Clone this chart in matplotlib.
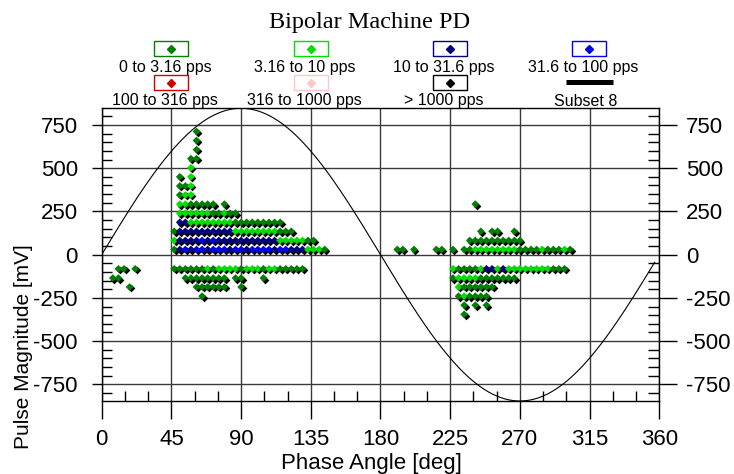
"""
Phase resolved PD plot (bipolar machine) saved to out.png.

"""
import matplotlib

matplotlib.use("Agg")
import matplotlib.pyplot as plt
import matplotlib.transforms as mtransforms
import numpy as np
from matplotlib import font_manager
from matplotlib.lines import Line2D
from matplotlib.patches import Rectangle
from matplotlib.ticker import MultipleLocator

plt.rcParams["font.family"] = ["Liberation Sans", "DejaVu Sans"]
plt.rcParams["axes.unicode_minus"] = False

# pulse rate classes, legend order
category_labels = ["0 to 3.16 pps", "3.16 to 10 pps", "10 to 31.6 pps", "31.6 to 100 pps",
                   "100 to 316 pps", "316 to 1000 pps", "> 1000 pps"]
category_codes = ["g", "G", "n", "b", "r", "p", "k"]
category_colors = ["#008000", "#00E000", "#000080", "#0000F0", "#D00000", "#FFC8C8", "#000000"]
subset_label = "Subset 8"

# phase windows of 3.6 deg; row = (magnitude mV, first window, class code per window, '.' = empty)
phase_window = 3.6
pd_rows = [
    (712, 17, "g"),
    (660, 17, "g"),
    (607, 17, "g"),
    (555, 16, "gg"),
    (502, 16, "G"),
    (450, 14, "g.G"),
    (397, 14, "ggG"),
    (345, 14, "gGG"),
    (292, 14, "GGggggg.g"),
    (240, 14, "GGGGGGggGgg"),
    (187, 14, "nnGGGGGGGGggggggggg"),
    (135, 13, "gnnnnnnnnnnGGGGGGGGggg"),
    (82, 13, "GnnnnbnbnnnnnnnnnnnGGGGGgg"),
    (30, 13, "gnbnbbnbbbnbbnbbbbnbbnnnGGGg"),
    (-82, 13, "ggggggGgGGGGgGGGgGGggggg"),
    (-135, 15, "gggggggg.gg...g"),
    (-187, 17, "gggggg..g"),
    (-240, 18, "g"),
    # small group just after zero crossing
    (-82, 3, "gg.g"),
    (-135, 2, "gg"),
    (-187, 5, "g"),
    # negative half cycle group
    (292, 67, "g"),
    (135, 68, "g.gg..g"),
    (82, 66, "gggggggggg"),
    (30, 53, "gg.g...gg.g.ggGGGGGGGGggggGgggGg"),
    (-82, 63, "GggggGnnGnGGGGGGGGggg"),
    (-135, 63, "gGGGGggggggg"),
    (-187, 64, "Ggggggg"),
    (-240, 64, "gGgggg"),
    (-292, 65, "g.g.g"),
    (-345, 65, "g"),
]

# AC reference wave
sine_amplitude = 846
sine_end = 357

x_ticks = [0, 45, 90, 135, 180, 225, 270, 315, 360]
y_ticks = [-750, -500, -250, 0, 250, 500, 750]

W, H = 734, 474


def fx(px):
    return px / W


def fy(py):
    return 1 - py / H


def unpack_rows(rows):
    color_of = dict(zip(category_codes, category_colors))
    phase, mag, color = [], [], []
    for value, first, codes in rows:
        for i, code in enumerate(codes):
            if code == ".":
                continue
            phase.append((first + i) * phase_window)
            mag.append(value)
            color.append(color_of[code])
    return np.array(phase), np.array(mag), color


fig = plt.figure(figsize=(W / 100, H / 100), dpi=100)
ax = fig.add_axes([fx(101.7), fy(401), fx(659.3) - fx(101.7), fy(108.3) - fy(401)])
ax.set_xlim(0, 360)
ax.set_ylim(-846, 846)

ax.grid(True, which="major", color="#3a3a3a", linewidth=1.0, zorder=1)
ax.set_axisbelow(True)

wave_phase = np.linspace(0, sine_end, 400)
ax.plot(wave_phase, sine_amplitude * np.sin(np.radians(wave_phase)),
        color="black", linewidth=0.8, zorder=2)

phase, mag, color = unpack_rows(pd_rows)
shadow = mtransforms.offset_copy(ax.transData, fig=fig, x=1.5, y=-1.5, units="dots")
ax.scatter(phase, mag, s=15.5, marker="D", color="black", linewidths=0,
           transform=shadow, zorder=3)
ax.scatter(phase, mag, s=15.5, marker="D", c=color, linewidths=0, zorder=4)

for side in ax.spines.values():
    side.set_linewidth(1.0)
    side.set_color("black")

ax.set_xticks(x_ticks)
ax.xaxis.set_minor_locator(MultipleLocator(15))
ax.set_yticks(y_ticks)
ax.yaxis.set_minor_locator(MultipleLocator(50))
ax.tick_params(axis="x", which="major", direction="out", length=13, width=1,
               pad=7, labelsize=16, top=False)
ax.tick_params(axis="x", which="minor", direction="in", length=7.5, width=1, top=False)
ax.tick_params(axis="y", which="major", direction="out", length=7.2, width=1,
               pad=10, labelsize=16, right=False)
ax.tick_params(axis="y", which="minor", direction="in", length=7.5, width=1, right=False)

ax2 = ax.twinx()
ax2.set_ylim(ax.get_ylim())
ax2.set_yticks(y_ticks)
ax2.yaxis.set_minor_locator(MultipleLocator(50))
ax2.tick_params(axis="y", which="major", direction="out", length=13, width=1,
                pad=6, labelsize=16)
ax2.tick_params(axis="y", which="minor", direction="in", length=8, width=1)
for side in ax2.spines.values():
    side.set_visible(False)

# titles and axis labels
fig.text(fx(370), fy(28), "Bipolar Machine PD", family="Liberation Serif",
         fontsize=17.5, ha="center", va="baseline")
fig.text(fx(371), fy(469), "Phase Angle [deg]", fontsize=16, ha="center", va="baseline")

installed = {f.name for f in font_manager.fontManager.ttflist}
if "Liberation Sans Narrow" in installed:
    fig.text(fx(24), fy(347), "Pulse Magnitude [mV]", family="Liberation Sans Narrow",
             fontsize=17.5, rotation=90, ha="center", va="center")
else:
    fig.text(fx(24), fy(347), "Pulse Magnitude [mV]", fontsize=15,
             rotation=90, ha="center", va="center")

# legend: boxed diamonds with caption below
col_x = [171, 310.5, 449.7, 589]
box_y = [48.5, 82.5]
text_y = [72, 105.5]
for i, (label, colour) in enumerate(zip(category_labels, category_colors)):
    row, col = divmod(i, 4)
    cx, cy = col_x[col], box_y[row]
    fig.add_artist(Rectangle((fx(cx - 17), fy(cy + 7.5)), 34 / W, 15 / H,
                             transform=fig.transFigure, fill=False,
                             edgecolor=colour, linewidth=1.0))
    fig.add_artist(Line2D([fx(cx)], [fy(cy)], marker="D", markersize=3.6,
                          color=colour, linestyle="none", transform=fig.transFigure))
    fig.text(fx(cx - 6), fy(text_y[row]), label, fontsize=11.5, ha="center", va="baseline")

fig.add_artist(Line2D([fx(566), fx(613)], [fy(82), fy(82)], color="black", linewidth=3.6,
                      solid_capstyle="butt", transform=fig.transFigure))
fig.text(fx(col_x[3] - 3), fy(text_y[1]), subset_label, fontsize=11.5,
         ha="center", va="baseline")

fig.savefig("out.png", dpi=100)
